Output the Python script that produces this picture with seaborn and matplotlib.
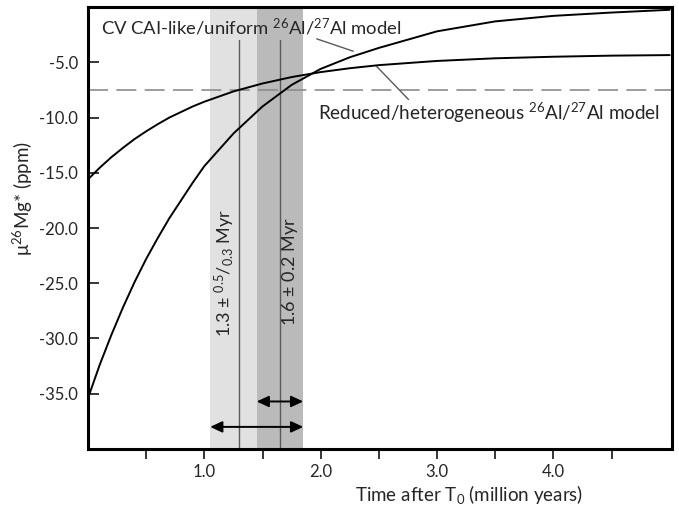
import numpy as np
import pandas as pd
import matplotlib
matplotlib.use("Agg")
import matplotlib.pyplot as plt
import seaborn as sns

# curve values (time in Myr after T0, mu26Mg* in ppm)
time = [0, 0.1, 0.2, 0.3, 0.4, 0.5, 0.6, 0.7, 0.8, 0.9, 1.0,
        1.25, 1.5, 1.75, 2.0, 2.25, 2.5, 3.0, 3.5, 4.0, 4.5, 5.0]
uniform = [-35.4, -32.4, -29.7, -27.2, -24.9, -22.8, -20.9, -19.1, -17.5, -15.9, -14.4,
           -11.45, -9.0, -7.05, -5.6, -4.55, -3.7, -2.2, -1.3, -0.8, -0.5, -0.25]
reduced = [-15.6, -14.55, -13.6, -12.75, -11.95, -11.25, -10.6, -10.0, -9.5, -9.0, -8.57,
           -7.64, -6.92, -6.34, -5.89, -5.54, -5.26, -4.88, -4.64, -4.5, -4.4, -4.35]

threshold = -7.5                 # dashed reference level
ages = [1.3, 1.65]               # model ages
light_band = (1.05, 1.85)
dark_band = (1.45, 1.85)
arrow_low = (1.05, 1.85, -38.0)
arrow_high = (1.45, 1.85, -35.7)

sns.set_style("ticks")
plt.rcParams['font.family'] = ['Lato', 'DejaVu Sans']
plt.rcParams['mathtext.fontset'] = 'custom'
plt.rcParams['mathtext.rm'] = 'Lato'
plt.rcParams['mathtext.it'] = 'Lato:italic'
plt.rcParams['mathtext.bf'] = 'Lato:bold'

df = pd.DataFrame({'time': time * 2,
                   'mu': uniform + reduced,
                   'model': ['uniform'] * len(time) + ['reduced'] * len(time)})

fig, ax = plt.subplots(figsize=(6.79, 5.09), dpi=100)
fig.subplots_adjust(left=0.1296, right=0.9897, top=0.9862, bottom=0.1179)

# shaded age ranges
ax.axvspan(*light_band, color='#e1e1e1', lw=0, zorder=0)
ax.axvspan(*dark_band, color='#bababa', lw=0, zorder=0)
for a in ages:
    ax.plot([a, a], [-40, -3.0], color='#5a5a5a', lw=1.0, zorder=1)

ax.axhline(threshold, color='#8c8c8c', lw=1.2, dashes=(12, 5), zorder=1)

sns.lineplot(data=df, x='time', y='mu', hue='model', palette=['black', 'black'],
             legend=False, lw=1.4, ax=ax, zorder=3)

# double arrows
for x0, x1, yv in [arrow_low, arrow_high]:
    ax.annotate('', xy=(x1, yv), xytext=(x0, yv),
                arrowprops=dict(arrowstyle='<|-|>,head_length=0.6,head_width=0.28',
                                color='black', lw=1.4, shrinkA=0, shrinkB=0,
                                mutation_scale=12))

# labels
ax.text(0.11, -1.8, r"CV CAI-like/uniform $^{26}$Al/$^{27}$Al model",
        fontsize=13.3, va='center', ha='left')
ax.plot([1.966, 2.28], [-2.88, -4.0], color='#5a5a5a', lw=1.0)
ax.text(1.98, -9.6, r"Reduced/heterogeneous $^{26}$Al/$^{27}$Al model",
        fontsize=13.6, va='center', ha='left')
ax.plot([2.48, 2.755], [-5.36, -8.37], color='#5a5a5a', lw=1.0)

ax.text(1.18, -24.1, r"1.3 $\pm$ $^{0.5}/_{0.3}$ Myr", rotation=90,
        fontsize=13, ha='center', va='center')
ax.text(1.74, -23.9, r"1.6 $\pm$ 0.2 Myr", rotation=90,
        fontsize=13, ha='center', va='center')

ax.set_xlim(0, 5.02)
ax.set_ylim(-40, 0)
ax.set_xticks(np.arange(0.5, 5.0, 0.5))
ax.set_xticklabels(['', '1.0', '', '2.0', '', '3.0', '', '4.0', ''])
ax.set_yticks(np.arange(-35, 0, 5))
ax.set_yticklabels([f"{v:.1f}" for v in np.arange(-35, 0, 5)])
ax.tick_params(axis='x', direction='out', length=7, width=1.3, labelsize=12, pad=4)
ax.tick_params(axis='y', direction='in', length=8, width=1.3, labelsize=12, pad=7)

for s in ax.spines.values():
    s.set_linewidth(2.2)
    s.set_color('black')

ax.set_xlabel(r"Time after T$_0$ (million years)", fontsize=13.5)
ax.set_ylabel("\u03bc$^{26}$Mg* (ppm)", fontsize=13.5)
ax.xaxis.set_label_coords(0.652, -0.077)
ax.yaxis.set_label_coords(-0.091, 0.566)

fig.savefig('out.png', dpi=100)
